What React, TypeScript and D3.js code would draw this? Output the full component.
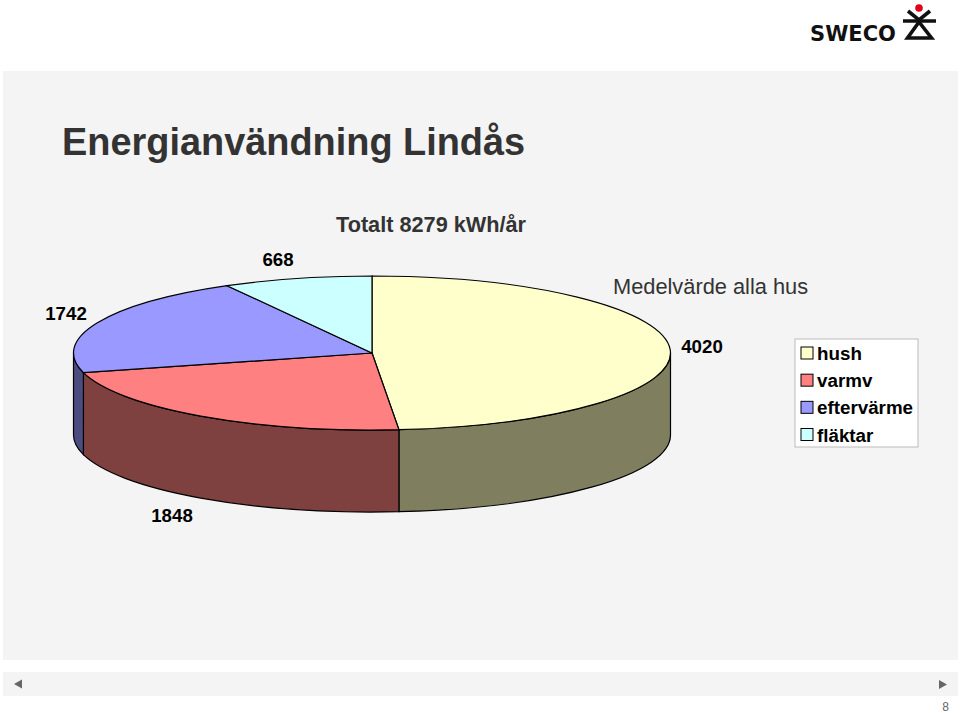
import * as React from "react";
import * as d3 from "d3";

const categories = ["hush", "varmv", "eftervärme", "fläktar"];
const values = [4020, 1848, 1742, 668];
const topColors = ["#FFFFCC", "#FF8080", "#9999FF", "#CCFFFF"];
const sideColors = ["#7F7F60", "#7F4040", "#4C4C80", "#607F7F"];

// label anchor for each value
const labelPos: [number, number][] = [
  [702, 353],
  [172, 522],
  [66, 320],
  [278, 266],
];

const width = 960;
const height = 713;
const cx = 372;
const cy = 353;
const rx = 298.5;
const ry = 77;
const depth = 82;

const FONT = "'Liberation Sans', Arial, sans-serif";

const App: React.FC = () => {
  const arcs = d3
    .pie<number>()
    .sort(null)
    .startAngle(0)
    .endAngle(2 * Math.PI)(values);

  const topColor = d3.scaleOrdinal<number, string>().domain(d3.range(4)).range(topColors);
  const sideColor = d3.scaleOrdinal<number, string>().domain(d3.range(4)).range(sideColors);

  // the top is a normal d3 arc squashed in y
  const arc = d3.arc<d3.PieArcDatum<number>>().innerRadius(0).outerRadius(rx);

  const px = (a: number) => cx + rx * Math.sin(a);
  const py = (a: number) => cy - ry * Math.cos(a);

  // front wall of a slice, only the part between 90 and 270 deg is visible
  const sidePath = (a0: number, a1: number) => {
    const s = Math.max(a0, Math.PI / 2);
    const e = Math.min(a1, (3 * Math.PI) / 2);
    if (e <= s) return null;
    return (
      `M${px(s)},${py(s)}A${rx},${ry} 0 0 1 ${px(e)},${py(e)}` +
      `L${px(e)},${py(e) + depth}A${rx},${ry} 0 0 0 ${px(s)},${py(s) + depth}Z`
    );
  };

  const legendY = d3.scalePoint<string>().domain(categories).range([353, 434.5]);

  return (
    <svg
      width={width}
      height={height}
      style={{ position: "absolute", left: 0, top: 0, background: "#fff" }}
      fontFamily={FONT}
    >
      <rect x={3} y={71} width={955} height={589} fill="#F4F4F4" />
      <rect x={3} y={672} width={955} height={24} fill="#F4F4F4" />
      <path d="M14,684l8,-4.5v9z" fill="#666" />
      <path d="M947,684.5l-8,-4.5v9z" fill="#666" />
      <text x={949} y={711} fontSize={12} textAnchor="end" fill="#666">8</text>

      {/* logo */}
      <text
        x={810}
        y={40.5}
        fontSize={22}
        fontFamily="'DejaVu Sans', sans-serif"
        fontWeight="bold"
        textLength={86}
        lengthAdjust="spacingAndGlyphs"
        fill="#111"
      >
        SWECO
      </text>
      <g stroke="#111" strokeWidth={3.6} fill="none">
        <path d="M908,11L919,20L930,11" />
        <path d="M903,21H936" />
        <path d="M919,22L907.5,38H931.5Z" />
      </g>
      <circle cx={919} cy={8} r={3.8} fill="#E2001A" />

      <text x={62} y={155} fontSize={37.9} fontWeight="bold" fill="#333">Energianvändning Lindås</text>
      <text x={336} y={232} fontSize={21.7} fontWeight="bold" fill="#333">Totalt 8279 kWh/år</text>
      <text x={613} y={294} fontSize={21.8} fill="#333">Medelvärde alla hus</text>

      {/* walls */}
      {arcs.map((d, i) => {
        const p = sidePath(d.startAngle, d.endAngle);
        return p ? <path key={i} d={p} fill={sideColor(i)} stroke="#000" strokeWidth={1.2} /> : null;
      })}
      {/* top */}
      <g transform={`translate(${cx},${cy}) scale(1,${ry / rx})`}>
        {arcs.map((d, i) => (
          <path
            key={i}
            d={arc(d) || undefined}
            fill={topColor(i)}
            stroke="#000"
            strokeWidth={1.2}
            vectorEffect="non-scaling-stroke"
          />
        ))}
      </g>

      {values.map((v, i) => (
        <text key={i} x={labelPos[i][0]} y={labelPos[i][1]} fontSize={18.7} fontWeight="bold" textAnchor="middle" fill="#000">
          {v}
        </text>
      ))}

      {/* legend */}
      <rect x={795} y={339} width={123} height={108} fill="#fff" stroke="#bbb" strokeWidth={1} />
      {categories.map((c, i) => {
        const y = legendY(c) as number;
        return (
          <g key={c}>
            <rect x={801} y={y - 6} width={12} height={12} fill={topColor(i)} stroke="#000" strokeWidth={1} />
            <text x={817} y={y + 7} fontSize={18.8} fontWeight="bold" fill="#000">{c}</text>
          </g>
        );
      })}
    </svg>
  );
};

export default App;
